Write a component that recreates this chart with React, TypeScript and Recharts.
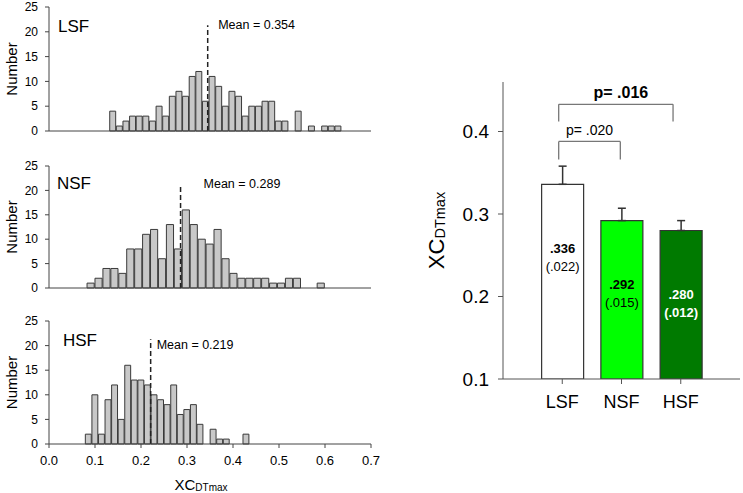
import React from 'react';
import { BarChart, Bar, XAxis, YAxis, ReferenceLine, ErrorBar, Cell, LabelList } from 'recharts';

const FONT = '"Liberation Sans", Arial, Helvetica, sans-serif';
const AXIS = '#444';

// ── histogram data (counts per bin, left to right) ──
const GROUPS = ['LSF', 'NSF', 'HSF'];
const LSF_COUNTS = [4, 1, 2, 3, 3, 3, 2, 5, 3, 7, 8, 7, 11, 12, 6, 11, 9, 5, 8, 7, 3, 5, 5, 6, 6, 2, 2, 0, 4, 0, 1, 0, 1, 1, 1];
const NSF_COUNTS = [1, 2, 4, 4, 3, 8, 8, 11, 12, 6, 13, 8, 16, 13, 10, 9, 12, 6, 3, 2, 2, 2, 2, 1, 1, 2, 2, 0, 0, 1];
const HSF_COUNTS = [2, 10, 2, 9, 12, 5, 16, 13, 13, 12, 10, 9, 8, 12, 6, 7, 8, 4, 0, 3, 1, 1, 0, 0, 2];
const COUNTS = [LSF_COUNTS, NSF_COUNTS, HSF_COUNTS];
const BIN_STARTS = [0.132, 0.0827, 0.079];
const BIN_WIDTHS = [0.0144, 0.01725, 0.01428];
const MEAN_LINES = [0.345, 0.286, 0.221];
const MEAN_LABELS = ['Mean = 0.354', 'Mean = 0.289', 'Mean = 0.219'];
const MEAN_TOP = 21.3;
const HIST_X_TICKS = [0, 0.1, 0.2, 0.3, 0.4, 0.5, 0.6, 0.7];
const HIST_Y_TICKS = [0, 5, 10, 15, 20, 25];

// ── mean ± SE bar chart ──
const BAR_MEANS = [0.336, 0.292, 0.28];
const BAR_SES = [0.022, 0.015, 0.012];
const BAR_Y_TICKS = [0.1, 0.2, 0.3, 0.4];
const BAR_FILLS = ['#ffffff', '#00ff00', '#007a00'];
const BAR_TEXT = ['#000', '#000', '#fff'];

const BRACKETS = [
  { x1: 0.94, x2: 1.98, y: 0.388, drop: 0.022, text: 'p= .020', bold: false, size: 14, rise: 11, dx: 0 },
  { x1: 0.94, x2: 2.87, y: 0.433, drop: 0.021, text: 'p= .016', bold: true, size: 16, rise: 12, dx: 5 },
];

// layout of the three stacked panels
const PANELS = [
  { top: 0, height: 139, mt: 7, titleTop: 17, titleLeft: 58, dx: 10.5, dy: 0 },
  { top: 158, height: 138, mt: 8, titleTop: 174, titleLeft: 57, dx: 23, dy: 0 },
  { top: 314, height: 178, mt: 7, titleTop: 331, titleLeft: 63, dx: 6, dy: 6 },
];

const fmt3 = (v: number) => v.toFixed(3).replace(/^0/, '');

function NumberLabel(p: any) {
  const vb = p.viewBox;
  const cy = vb.y + vb.height / 2;
  return (
    <text x={11} y={cy} transform={`rotate(-90 11 ${cy})`} textAnchor="middle" dominantBaseline="central" fontSize={15} fill="#000">
      Number
    </text>
  );
}

function XcLabel(p: any) {
  const vb = p.viewBox;
  return (
    <text x={vb.x + vb.width / 2 - 9} y={vb.y + 40} textAnchor="middle" dominantBaseline="central" fill="#000">
      <tspan fontSize={15}>XC</tspan>
      <tspan fontSize={10} dy={3}>DTmax</tspan>
    </text>
  );
}

function Histogram({ idx }: { idx: number }) {
  const pn = PANELS[idx];
  const last = idx === 2;
  const data = COUNTS[idx].map((n, i) => ({ x: BIN_STARTS[idx] + (i + 0.5) * BIN_WIDTHS[idx], n }));
  const plotW = 322;
  const barPx = (BIN_WIDTHS[idx] / 0.7) * plotW;
  const m = MEAN_LINES[idx];
  return (
    <div style={{ position: 'absolute', left: 0, top: pn.top, width: 380, height: pn.height }}>
      <BarChart width={380} height={pn.height} data={data} margin={{ top: pn.mt, right: 9, left: 0, bottom: 0 }}>
        <XAxis
          type="number"
          dataKey="x"
          domain={[0, 0.7]}
          ticks={HIST_X_TICKS}
          interval={0}
          allowDataOverflow
          tickFormatter={(v: number) => v.toFixed(1)}
          tick={last ? { fontSize: 13, fill: '#000' } : false}
          tickSize={4}
          tickMargin={8}
          height={last ? 48 : 8}
          axisLine={{ stroke: AXIS }}
          tickLine={{ stroke: AXIS }}
          label={last ? { content: XcLabel } : undefined}
        />
        <YAxis
          type="number"
          domain={[0, 25]}
          ticks={HIST_Y_TICKS}
          interval={0}
          width={49}
          tickSize={4}
          tickMargin={7}
          tick={{ fontSize: 12, fill: '#000' }}
          axisLine={{ stroke: AXIS }}
          tickLine={{ stroke: AXIS }}
          label={{ content: NumberLabel }}
        />
        <Bar dataKey="n" barSize={barPx} fill="#c8c8c8" stroke="#3a3a3a" strokeWidth={1} isAnimationActive={false} />
        <ReferenceLine
          segment={[{ x: m, y: 0 }, { x: m, y: MEAN_TOP }]}
          stroke="#222"
          strokeWidth={1.5}
          strokeDasharray="5 3"
          label={{
            content: (p: any) => (
              <text x={p.viewBox.x + pn.dx} y={p.viewBox.y + pn.dy} dominantBaseline="central" fontSize={12.5} fill="#000">
                {MEAN_LABELS[idx]}
              </text>
            ),
          }}
        />
      </BarChart>
      <div style={{ position: 'absolute', left: pn.titleLeft, top: pn.titleTop - pn.top, fontSize: 17, lineHeight: '20px', color: '#000' }}>
        {GROUPS[idx]}
      </div>
    </div>
  );
}

function BarValueLabel(p: any) {
  const { x, y, width, index } = p;
  const cx = x + width / 2;
  const col = BAR_TEXT[index];
  return (
    <g>
      <text x={cx} y={y + 64} textAnchor="middle" dominantBaseline="central" fontSize={13} fontWeight="bold" fill={col}>
        {fmt3(BAR_MEANS[index])}
      </text>
      <text x={cx} y={y + 82} textAnchor="middle" dominantBaseline="central" fontSize={13} fontWeight={index === 2 ? 'bold' : 'normal'} fill={col}>
        ({fmt3(BAR_SES[index])})
      </text>
    </g>
  );
}

function YLabel(p: any) {
  const cy = p.viewBox.y + p.viewBox.height / 2;
  const cx = 36;
  return (
    <text x={cx} y={cy} transform={`rotate(-90 ${cx} ${cy})`} textAnchor="middle" dominantBaseline="central" fill="#000">
      <tspan fontSize={22}>XC</tspan>
      <tspan fontSize={14.5} dy={4}>DTmax</tspan>
    </text>
  );
}

function MeanBars() {
  const data = GROUPS.map((g, i) => ({ pos: i + 1, name: g, mean: BAR_MEANS[i], err: [0, BAR_SES[i]] }));
  return (
    <div style={{ position: 'absolute', left: 400, top: 60 }}>
      <BarChart width={343} height={360} data={data} margin={{ top: 22, right: 3, left: 0, bottom: 0 }}>
        <XAxis
          type="number"
          dataKey="pos"
          domain={[0, 4]}
          ticks={[1, 2, 3]}
          interval={0}
          tickFormatter={(v: number) => GROUPS[v - 1]}
          tickSize={5}
          tickMargin={11}
          height={41}
          tick={{ fontSize: 18, fill: '#000' }}
          axisLine={{ stroke: '#555' }}
          tickLine={{ stroke: '#555' }}
        />
        <YAxis
          type="number"
          domain={[0.1, 0.46]}
          allowDataOverflow
          ticks={BAR_Y_TICKS}
          interval={0}
          width={103}
          tickSize={5}
          tickMargin={9}
          tickFormatter={(v: number) => v.toFixed(1)}
          tick={{ fontSize: 19, fill: '#000' }}
          axisLine={{ stroke: '#555' }}
          tickLine={{ stroke: '#555' }}
          label={{ content: YLabel }}
        />
        <Bar dataKey="mean" barSize={42} stroke="#333" strokeWidth={1.2} isAnimationActive={false}>
          {data.map((d, i) => (
            <Cell key={d.name} fill={BAR_FILLS[i]} />
          ))}
          <ErrorBar dataKey="err" direction="y" width={4} stroke="#333" strokeWidth={1.5} />
          <LabelList dataKey="mean" content={BarValueLabel} />
        </Bar>
        {BRACKETS.map((b, i) => (
          <ReferenceLine
            key={'h' + i}
            segment={[{ x: b.x1, y: b.y }, { x: b.x2, y: b.y }]}
            stroke="#777"
            strokeWidth={1.3}
            label={{
              content: (p: any) => (
                <text
                  x={p.viewBox.x + p.viewBox.width / 2 + b.dx}
                  y={p.viewBox.y - b.rise}
                  textAnchor="middle"
                  dominantBaseline="central"
                  fontSize={b.size}
                  fontWeight={b.bold ? 'bold' : 'normal'}
                  fill="#000"
                >
                  {b.text}
                </text>
              ),
            }}
          />
        ))}
        {BRACKETS.map((b, i) => (
          <ReferenceLine key={'l' + i} segment={[{ x: b.x1, y: b.y }, { x: b.x1, y: b.y - b.drop }]} stroke="#777" strokeWidth={1.3} />
        ))}
        {BRACKETS.map((b, i) => (
          <ReferenceLine key={'r' + i} segment={[{ x: b.x2, y: b.y }, { x: b.x2, y: b.y - b.drop }]} stroke="#777" strokeWidth={1.3} />
        ))}
      </BarChart>
    </div>
  );
}

export default function App() {
  return (
    <div style={{ position: 'absolute', left: 0, top: 0, width: 743, height: 493, background: '#fff', fontFamily: FONT, overflow: 'hidden' }}>
      <Histogram idx={0} />
      <Histogram idx={1} />
      <Histogram idx={2} />
      <MeanBars />
    </div>
  );
}
